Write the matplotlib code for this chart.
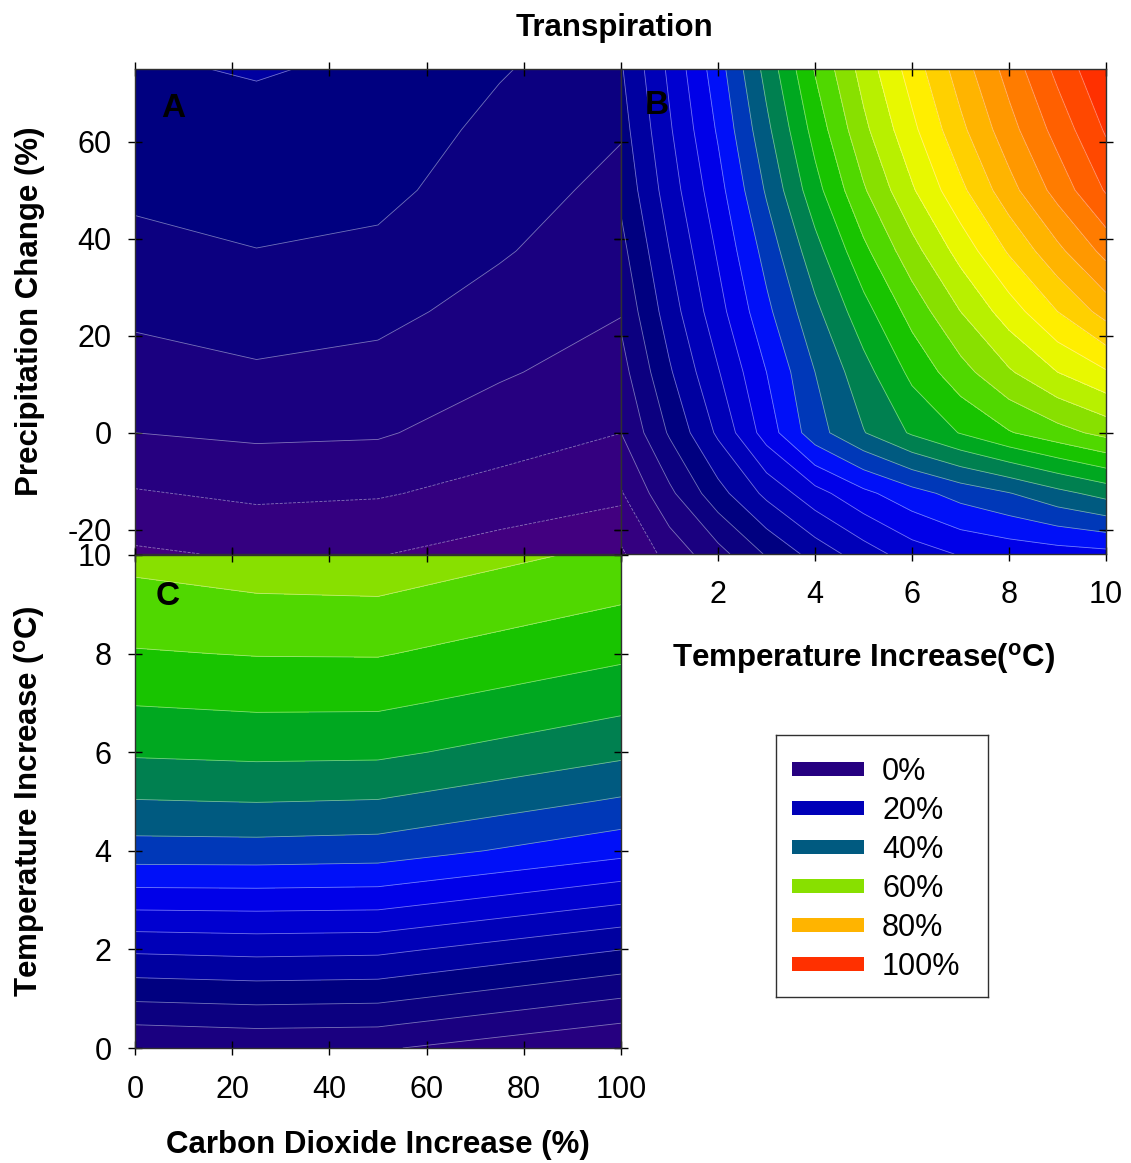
import numpy as np
import matplotlib
matplotlib.use("Agg")
import matplotlib.pyplot as plt
from matplotlib.patches import Rectangle

plt.rcParams['font.family'] = ['Liberation Sans', 'DejaVu Sans']
plt.rcParams['axes.unicode_minus'] = False

# ---- grid coordinates -------------------------------------------------------
co2_a = [0, 25, 50, 75, 100]                          # CO2 increase (%) for panel A
co2_c = [0, 25, 50, 100]                              # CO2 increase (%) for panel C
precip = [-25, -12.5, 0, 12.5, 25, 37.5, 50, 62.5, 75]  # precipitation change (%)
temp = [0, 1, 2, 3, 4, 5, 6, 7, 8, 9, 10]             # temperature increase (degC)

# ---- transpiration change (%) ----------------------------------------------
# Panel A (T = 0): rows follow `precip`, columns follow `co2_a`
transp_a = [
    [-8.60, -7.49, -7.80, -9.74, -10.70],
    [-4.34, -3.21, -3.63, -5.39, -7.32],
    [0.00, 0.70, 0.45, -2.14, -3.97],
    [2.48, 3.53, 2.79, 0.45, -1.83],
    [4.78, 5.79, 5.08, 2.53, 0.20],
    [6.81, 7.93, 7.18, 4.39, 1.57],
    [8.85, 9.42, 9.10, 5.70, 2.95],
    [10.30, 11.00, 10.20, 7.00, 4.32],
    [11.60, 12.25, 11.42, 8.31, 5.69],
]

# Panel B (CO2 = 0): rows follow `precip`, columns follow `temp`
transp_b = [
    [-8.60, -2.49, 2.55, 8.41, 13.55, 18.0, 22.0, 24.3, 25.4, 26.2, 26.8],
    [-4.34, 3.1, 10.5, 17.0, 22.5, 27.0, 30.5, 33.5, 35.8, 38.8, 41.4],
    [0.00, 8.49, 16.71, 25.82, 34.34, 39.80, 44.52, 48.21, 51.69, 54.49, 57.23],
    [2.48, 11.5, 19.7, 28.0, 36.0, 42.5, 49.0, 54.5, 59.5, 64.0, 67.6],
    [4.78, 14.0, 22.5, 31.0, 39.0, 46.5, 53.5, 60.0, 66.0, 72.0, 77.6],
    [6.81, 16.0, 24.5, 33.5, 42.5, 51.0, 58.5, 65.5, 72.5, 79.0, 85.3],
    [8.85, 18.0, 26.5, 36.5, 46.5, 55.5, 63.5, 71.0, 78.5, 85.5, 92.4],
    [10.30, 19.5, 28.5, 39.0, 49.5, 59.0, 67.0, 75.0, 82.5, 89.5, 96.5],
    [11.60, 20.8, 30.2, 41.4, 52.3, 61.6, 69.8, 78.0, 85.6, 93.1, 99.8],
]

# Panel C (P = 0): rows follow `temp`, columns follow `co2_c`
transp_c = [
    [0.00, 0.70, 0.45, -3.97],
    [8.49, 9.04, 8.75, 3.92],
    [16.71, 17.25, 16.96, 12.08],
    [25.82, 25.96, 25.74, 20.73],
    [34.34, 34.44, 34.07, 29.31],
    [39.80, 40.10, 39.79, 35.49],
    [44.52, 44.93, 44.79, 40.90],
    [48.21, 48.73, 48.68, 45.09],
    [51.69, 52.19, 52.26, 48.81],
    [54.49, 55.31, 55.51, 52.03],
    [57.23, 58.40, 58.60, 55.10],
]

# ---- contour levels and band colours ---------------------------------------
levels = list(range(-16, 101, 4))
band_colors = [
    '#4e0080', '#420080', '#340080', '#260080', '#1a0080', '#0c0080',
    '#000080', '#0000a0', '#0000b8', '#0000d0', '#0000e8', '#0010f8',
    '#0038b8', '#005a80', '#008050', '#00a820', '#18c400', '#50d800',
    '#88e000', '#b8f000', '#e8f800', '#ffee00', '#ffd000', '#ffb400',
    '#ff9800', '#ff7c00', '#ff6000', '#ff4800', '#ff3000',
]
legend_values = [0, 20, 40, 60, 80, 100]
legend_labels = ['0%', '20%', '40%', '60%', '80%', '100%']

W, H = 1131, 1163
fig = plt.figure(figsize=(W / 100, H / 100), dpi=100, facecolor='white')


def px_axes(x0, y0, x1, y1):
    return fig.add_axes([x0 / W, 1 - y1 / H, (x1 - x0) / W, (y1 - y0) / H])


TICK_FS = 22
LABEL_FS = 22.5


def panel(ax, x, y, z, letter, lx, ly):
    X, Y = np.meshgrid(x, y)
    Z = np.array(z)
    ax.contourf(X, Y, Z, levels=levels, colors=band_colors)
    ax.contour(X, Y, Z, levels=levels[1:-1], colors=[(1, 1, 1, 0.45)],
               linewidths=0.6)
    ax.tick_params(direction='inout', length=10, width=1, top=True, right=True,
                   labelsize=TICK_FS, color='black')
    for s in ax.spines.values():
        s.set_linewidth(1.0)
        s.set_color('#303030')
    ax.text(lx, ly, letter, transform=ax.transAxes, fontsize=24,
            fontweight='bold', ha='center', va='center')


# Panel A: CO2 vs precipitation
ax_a = px_axes(135, 69, 621, 554)
panel(ax_a, co2_a, precip, transp_a, 'A', 0.078, 0.918)
ax_a.set_xlim(0, 100)
ax_a.set_ylim(-25, 75)
ax_a.set_xticks([0, 20, 40, 60, 80, 100])
ax_a.set_xticklabels([])
ax_a.set_yticks([-20, 0, 20, 40, 60])
ax_a.tick_params(axis='y', pad=12)
ax_a.set_ylabel('Precipitation Change (%)', fontsize=LABEL_FS, fontweight='bold')
ax_a.yaxis.set_label_coords((30 - 135) / 486, 0.5)
ax_a.yaxis.label.set_verticalalignment('center')

# Panel B: temperature vs precipitation
ax_b = px_axes(621, 69, 1106, 554)
panel(ax_b, temp, precip, transp_b, 'B', 0.074, 0.925)
ax_b.set_xlim(0, 10)
ax_b.set_ylim(-25, 75)
ax_b.set_xticks([2, 4, 6, 8, 10])
ax_b.set_yticks([-20, 0, 20, 40, 60])
ax_b.set_yticklabels([])
ax_b.tick_params(axis='x', pad=14)
ax_b.set_xlabel('Temperature Increase($\\mathregular{^o}$C)', fontsize=LABEL_FS,
                fontweight='bold')
ax_b.xaxis.set_label_coords(0.5, (554 - 659) / 485)
ax_b.xaxis.label.set_verticalalignment('center')

# Panel C: CO2 vs temperature
ax_c = px_axes(135, 555, 621, 1048)
panel(ax_c, co2_c, temp, transp_c, 'C', 0.068, 0.916)
ax_c.set_xlim(0, 100)
ax_c.set_ylim(0, 10)
ax_c.set_xticks([0, 20, 40, 60, 80, 100])
ax_c.set_yticks([0, 2, 4, 6, 8, 10])
ax_c.tick_params(axis='y', pad=12)
ax_c.tick_params(axis='x', pad=14.5)
ax_c.set_xlabel('Carbon Dioxide Increase (%)', fontsize=LABEL_FS, fontweight='bold')
ax_c.xaxis.set_label_coords(0.5, (1048 - 1145) / 493)
ax_c.xaxis.label.set_verticalalignment('center')
ax_c.set_ylabel('Temperature Increase ($\\mathregular{^o}$C)', fontsize=LABEL_FS,
                fontweight='bold')
ax_c.yaxis.set_label_coords((30 - 135) / 486, 0.5)
ax_c.yaxis.label.set_verticalalignment('center')

# Title
fig.text(615 / W, 1 - 28 / H, 'Transpiration', fontsize=LABEL_FS,
         fontweight='bold', ha='center', va='center')

# Legend box with colour swatches taken from the band colours
ax_l = px_axes(776, 735, 988, 997)
ax_l.set_xlim(0, 212)
ax_l.set_ylim(262, 0)
ax_l.set_xticks([])
ax_l.set_yticks([])
for s in ax_l.spines.values():
    s.set_linewidth(1.0)
    s.set_color('#303030')
for i, (v, lab) in enumerate(zip(legend_values, legend_labels)):
    col = band_colors[levels.index(v) - 1]
    yc = 34 + 39 * i
    ax_l.add_patch(Rectangle((16, yc - 7), 72, 14, facecolor=col, edgecolor='none'))
    ax_l.text(106, yc + 3, lab, fontsize=TICK_FS, ha='left', va='center')

fig.savefig('out.png', dpi=100, facecolor='white')
